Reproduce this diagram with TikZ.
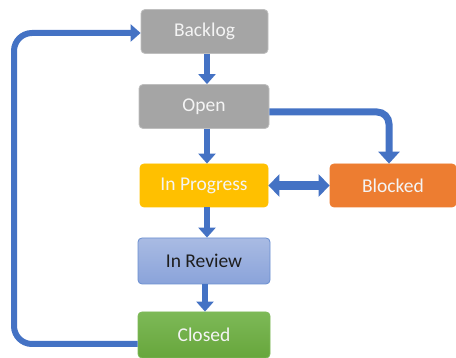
\documentclass[tikz,border=0pt]{standalone}
\usepackage{fontspec}
\setmainfont{Carlito}
\usetikzlibrary{arrows.meta}
\definecolor{flowblue}{HTML}{4472C4}
\definecolor{graybox}{HTML}{A5A5A5}
\definecolor{grayedge}{HTML}{BFBFBF}
\definecolor{yellowbox}{HTML}{FFC000}
\definecolor{orangebox}{HTML}{ED7D31}
\definecolor{bluetop}{HTML}{A9BBE3}
\definecolor{bluebot}{HTML}{8AA3DA}
\definecolor{greentop}{HTML}{7DB957}
\definecolor{greenbot}{HTML}{67A63C}
\definecolor{revtext}{HTML}{1E1E1E}
\definecolor{lighttext}{HTML}{F4F4F4}
\tikzset{
  state/.style={rounded corners=4pt, minimum height=44pt, text=lighttext, font=\fontsize{19.5}{22}\selectfont, line width=0.8pt, inner sep=0pt},
  flow/.style={draw=flowblue, line width=6pt, -{Triangle[width=17pt,length=10pt]}},
  bigflow/.style={draw=flowblue, line width=7pt, -{Triangle[width=21pt,length=12pt]}},
  twoway/.style={draw=flowblue, line width=9pt, {Triangle[width=22pt,length=11pt]}-{Triangle[width=22pt,length=11pt]}}
}
\begin{document}
\begin{tikzpicture}[x=1pt,y=-1pt]
\useasboundingbox (0,0) rectangle (456,358);
\node[state, fill=graybox, draw=grayedge, minimum width=127pt] (backlog) at (204.5,31.5) {Backlog};
\node[state, fill=graybox, draw=grayedge, minimum width=130pt] (open) at (204,106.5) {Open};
\node[state, fill=yellowbox, draw=yellowbox, minimum width=128pt, minimum height=43pt] (prog) at (204,185.5) {In Progress};
\node[state, fill=orangebox, draw=orangebox, minimum width=126pt, minimum height=43pt] (blocked) at (393,185.5) {Blocked};
\node[state, top color=bluetop, bottom color=bluebot, draw=flowblue!80, minimum width=132pt, minimum height=46pt, text=revtext] (review) at (204,261) {In Review};
\node[state, top color=greentop, bottom color=greenbot, draw=greentop, minimum width=132pt, minimum height=46pt] (closed) at (204,335) {Closed};
\coordinate (lb) at (14,344);
\coordinate (lt) at (14,33);
\draw[flow] (backlog.south -| 207,0) -- (open.north -| 207,0);
\draw[flow] (open.south -| 207,0) -- (prog.north -| 207,0);
\draw[flow] (prog.south -| 207,0) -- (review.north -| 207,0);
\draw[flow] (review.south -| 205,0) -- (closed.north -| 205,0);
\draw[bigflow, rounded corners=12pt] (open.east |- 0,112) -- (389,112) -- (blocked.north -| 389,0);
\draw[twoway] (prog.east) -- (blocked.west);
\draw[flow, rounded corners=18pt] (closed.west |- 0,344) -- (lb) -- (lt) -- (backlog.west |- 0,33);
\end{tikzpicture}
\end{document}
